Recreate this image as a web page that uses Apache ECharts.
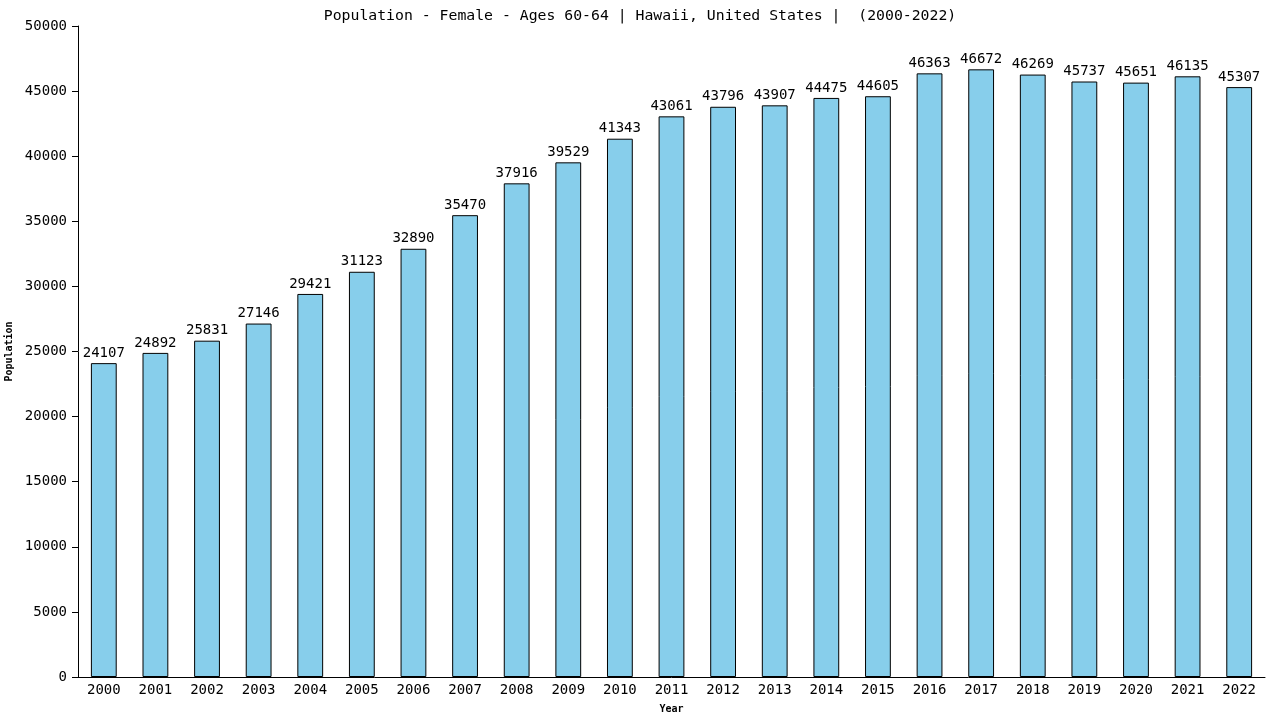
<!DOCTYPE html>
<html><head><meta charset="utf-8">
<script src="https://cdn.jsdelivr.net/npm/echarts@6/dist/echarts.min.js"></script>
<style>html,body{margin:0;padding:0;background:#fff}#c{width:1280px;height:720px}</style>
</head><body><div id="c"></div>
<script>
const years = ['2000','2001','2002','2003','2004','2005','2006','2007','2008','2009','2010','2011','2012','2013','2014','2015','2016','2017','2018','2019','2020','2021','2022'];
const population = [24107,24892,25831,27146,29421,31123,32890,35470,37916,39529,41343,43061,43796,43907,44475,44605,46363,46672,46269,45737,45651,46135,45307];
const yTicks = {min:0,max:50000,interval:5000};
const font = 'DejaVu Sans Mono';
const chart = echarts.init(document.getElementById('c'));
chart.setOption({
  animation:false,
  backgroundColor:'#ffffff',
  title:{text:'Population - Female - Ages 60-64 | Hawaii, United States |  (2000-2022)',left:'center',top:4,
    textStyle:{fontFamily:font,fontSize:14.8,fontWeight:'normal',color:'#000'}},
  grid:{left:78,right:15,top:26,bottom:43,containLabel:false,outerBoundsMode:'none'},
  xAxis:{type:'category',data:years,name:'Year',nameLocation:'middle',nameGap:27,
    nameTextStyle:{fontFamily:font,fontSize:10,fontWeight:'bold',color:'#000'},
    axisLine:{lineStyle:{color:'#000'}},axisTick:{show:false},
    axisLabel:{fontFamily:font,fontSize:14,color:'#000',margin:6}},
  yAxis:{type:'value',min:yTicks.min,max:yTicks.max,interval:yTicks.interval,name:'Population',nameLocation:'middle',nameGap:61,
    nameTextStyle:{fontFamily:font,fontSize:10,fontWeight:'bold',color:'#000'},
    axisLine:{show:true,lineStyle:{color:'#000'}},axisTick:{show:true,length:6,lineStyle:{color:'#000'}},
    splitLine:{show:false},
    axisLabel:{fontFamily:font,fontSize:14,color:'#000',margin:11,formatter:v=>String(v)}},
  series:[{type:'bar',data:population,barWidth:'50%',
    itemStyle:{color:'#87ceeb',borderColor:'#000',borderWidth:1},
    label:{show:true,position:'top',distance:3,fontFamily:font,fontSize:14,color:'#000'}}]
});
</script></body></html>
